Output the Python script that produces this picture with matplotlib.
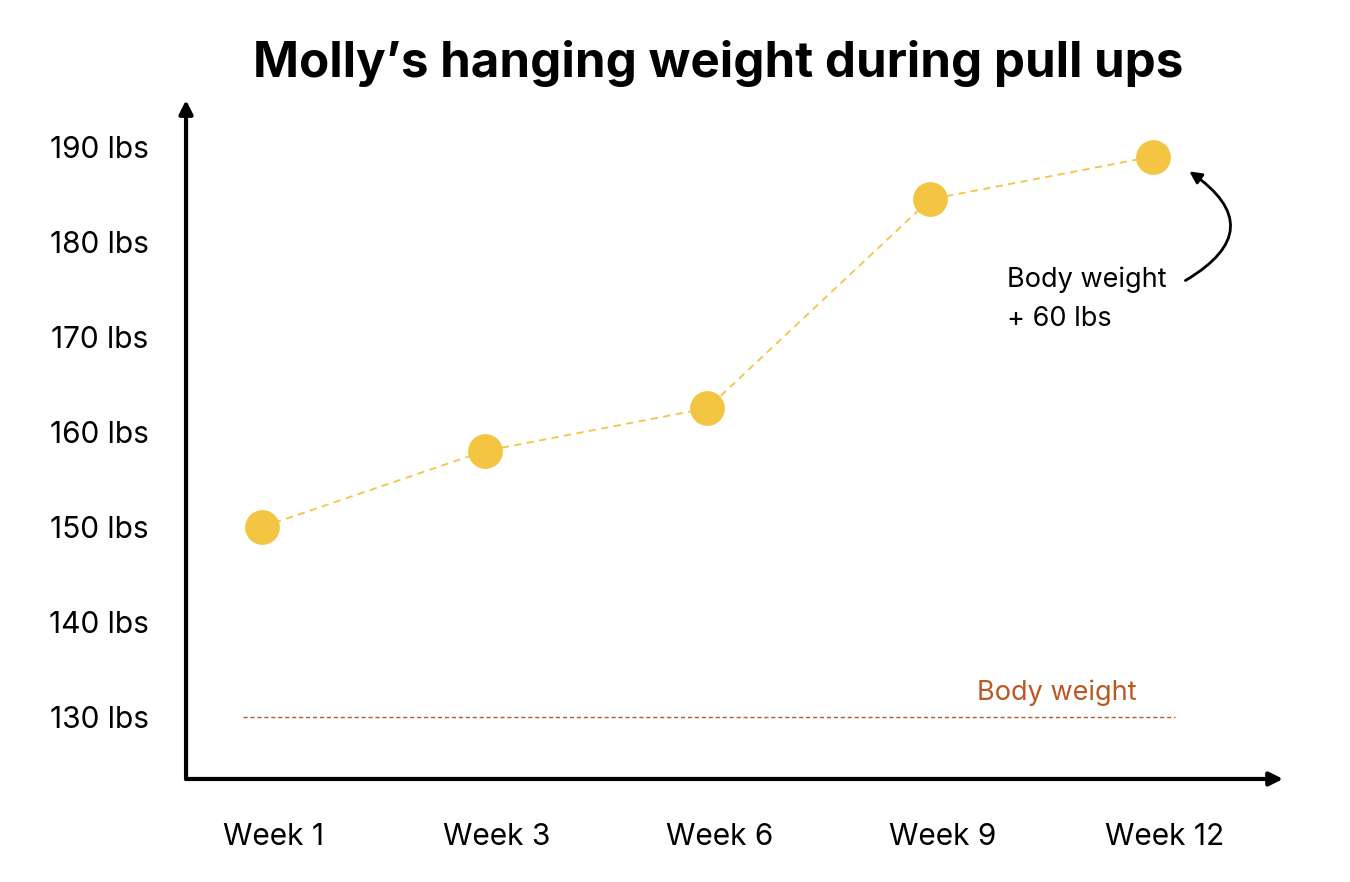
import numpy as np
import matplotlib.pyplot as plt
from matplotlib.transforms import ScaledTranslation

weeks = ['Week 1', 'Week 3', 'Week 6', 'Week 9', 'Week 12']
hanging_weight = [150, 158, 162.5, 184.5, 189]
body_weight = 130
y_ticks = [130, 140, 150, 160, 170, 180, 190]

yellow = '#F4C443'
orange = '#B95A25'

plt.rcParams['font.family'] = ['Inter', 'DejaVu Sans']

fig = plt.figure(figsize=(13.5, 8.82), dpi=100)
ax = fig.add_axes([0.1378, 0.1168, 0.8126, 0.7698])

x = np.arange(len(weeks))
ax.plot(x, hanging_weight, color=yellow, linestyle='--', linewidth=1.3, dashes=(4, 3), zorder=2)
ax.plot(x, hanging_weight, 'o', color=yellow, markersize=24, zorder=3)

# body weight reference line
ax.plot([-0.085, 4.1], [body_weight, body_weight], color=orange, linestyle='--',
        linewidth=1.0, dashes=(3, 2))
ax.text(3.57, body_weight + 2.6, 'Body weight', color=orange, fontsize=19.5,
        ha='center', va='center')

# annotation with curved arrow
ax.text(3.345, 174.0, 'Body weight\n+ 60 lbs', fontsize=19.5, ha='left', va='center',
        linespacing=1.65)
ax.annotate('', xy=(4.153, 187.6), xytext=(4.135, 175.8),
            arrowprops=dict(arrowstyle='-|>', color='black', lw=2,
                            connectionstyle='arc3,rad=0.8', mutation_scale=18))

ax.set_xlim(-0.341, 4.584)
ax.set_ylim(123.47, 194.95)

for s in ['top', 'right', 'left', 'bottom']:
    ax.spines[s].set_visible(False)

# axis arrows
ax.annotate('', xy=(0, 1), xytext=(0, 0), xycoords='axes fraction',
            arrowprops=dict(arrowstyle='-|>', color='black', lw=3, mutation_scale=20,
                            shrinkA=0, shrinkB=0))
ax.annotate('', xy=(1, 0), xytext=(0, 0), xycoords='axes fraction',
            arrowprops=dict(arrowstyle='-|>', color='black', lw=3, mutation_scale=20,
                            shrinkA=0, shrinkB=0))

ax.set_xticks(x)
ax.set_xticklabels(weeks, fontsize=21.5)
ax.set_yticks(y_ticks)
ax.set_yticklabels([f'{v} lbs' for v in y_ticks], fontsize=21.5)
ax.tick_params(axis='both', length=0)
ax.tick_params(axis='x', pad=32)
ax.tick_params(axis='y', pad=27)

offset = ScaledTranslation(12 / 100, 0, fig.dpi_scale_trans)
for lab in ax.get_xticklabels():
    lab.set_transform(lab.get_transform() + offset)

fig.text(0.532, 0.928, 'Molly\u2019s hanging weight during pull ups', fontsize=35.5,
         fontweight='bold', ha='center', va='center')

fig.savefig('out.png', dpi=100)
